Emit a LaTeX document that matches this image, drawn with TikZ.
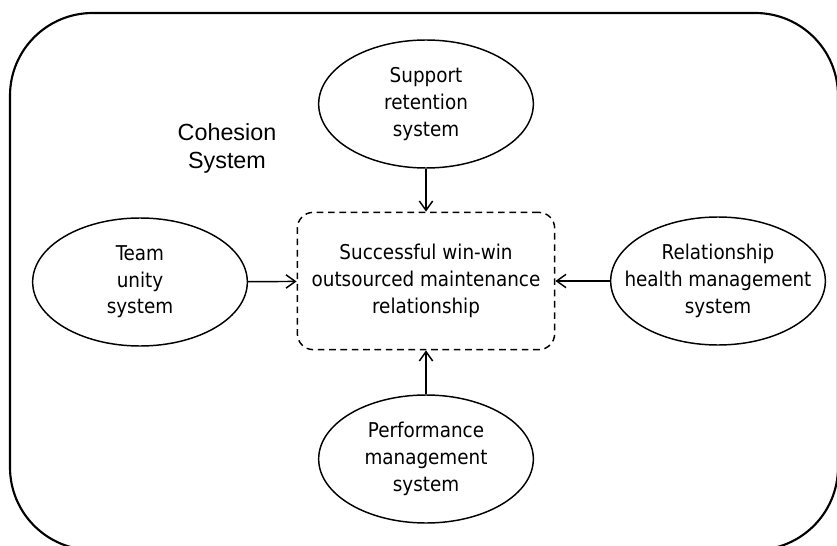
\documentclass[tikz,border=0pt]{standalone}
\usepackage{fontspec}
\setmainfont{DejaVu Sans Condensed}
\newfontfamily\arialfont{Liberation Sans}
\usetikzlibrary{shapes.geometric,arrows.meta}
\begin{document}
\begin{tikzpicture}[x=0.75pt,y=-0.75pt,
    sysnode/.style={ellipse, draw, line width=1.1pt, minimum width=161pt, minimum height=96pt, align=center, inner xsep=-16pt, inner ysep=0pt, font=\fontsize{15.3}{20}\selectfont},
    goalnode/.style={rectangle, draw, dash pattern=on 5pt off 3.5pt, line width=1.1pt, rounded corners=12pt, minimum width=193pt, minimum height=103pt, align=center, font=\fontsize{15.3}{20}\selectfont},
    link/.style={line width=1.1pt, -{Straight Barb[length=7pt,width=10pt,line width=1.1pt]}}]
    \useasboundingbox (0,0) rectangle (837,545);
    \draw[line width=1.6pt, rounded corners=62pt] (10,13) rectangle (838,550);
    \node (cohesion) at (227,148) [align=center, font=\arialfont\fontsize{17.5}{21}\selectfont] {Cohesion\\System};

    \node (goal) [goalnode] at (426,281) {Successful win-win\\outsourced maintenance\\relationship};
    \node (support) [sysnode] at (426,104) {Support\\retention\\system};
    \node (team) [sysnode] at (140,282) {Team\\unity\\system};
    \node (health) [sysnode] at (718,281) {Relationship\\health management\\system};
    \node (perform) [sysnode] at (426,459) {Performance\\management\\system};

    \draw[link] (support) -- (goal);
    \draw[link] (team) -- (goal);
    \draw[link] (health) -- (goal);
    \draw[link] (perform) -- (goal);
\end{tikzpicture}
\end{document}
